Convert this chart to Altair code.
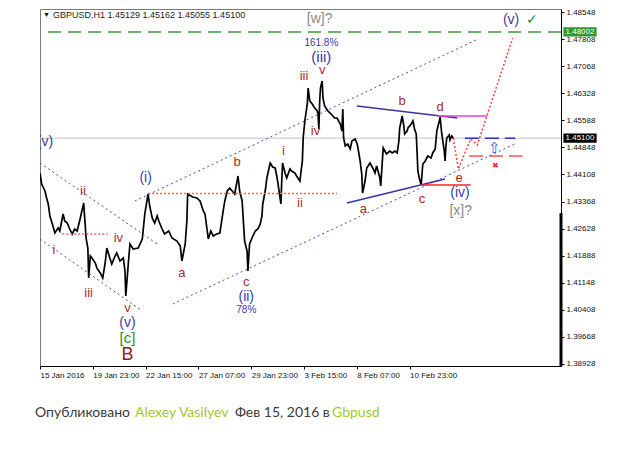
import altair as alt
import pandas as pd

# ---------------- data ----------------
# x = H1 bar index (64 bars between axis labels)
tick_bars = [0, 64, 128, 192, 256, 320, 384, 448]
tick_labels = ["15 Jan 2016", "19 Jan 23:00", "22 Jan 15:00", "27 Jan 07:00",
               "29 Jan 23:00", "3 Feb 15:00", "8 Feb 07:00", "10 Feb 23:00"]
price_ticks = [1.48548, 1.47808, 1.47068, 1.46328, 1.45588, 1.44848, 1.44108,
               1.43368, 1.42628, 1.41888, 1.41148, 1.40408, 1.39668, 1.38928]

price_bar = [0, 2, 6, 8, 10, 12, 15, 18, 22, 24,
             28, 30, 33, 36, 39, 42, 45, 48, 53, 54,
             56, 58, 59, 61, 63, 67, 69, 73, 76, 79,
             81, 85, 87, 91, 93, 97, 101, 103, 104, 107,
             109, 113, 119, 124, 127, 131, 133, 136, 139, 142,
             144, 148, 151, 156, 160, 166, 170, 172, 176, 178,
             179, 185, 190, 194, 198, 200, 204, 207, 210, 214,
             218, 222, 224, 227, 230, 236, 240, 242, 245, 248,
             251, 252, 254, 258, 261, 264, 267, 269, 270, 273,
             275, 279, 282, 285, 287, 288, 292, 293, 294, 297,
             299, 303, 305, 309, 311, 315, 318, 319, 321, 324,
             325, 327, 330, 333, 336, 337, 338, 339, 340, 342,
             343, 345, 349, 353, 357, 360, 364, 366, 367, 368,
             370, 373, 376, 378, 382, 384, 385, 388, 390, 391,
             394, 396, 400, 404, 406, 408, 412, 413, 416, 418,
             420, 424, 427, 430, 433, 435, 436, 439, 441, 442,
             445, 446, 450, 452, 454, 456, 457, 458, 460, 462,
             464, 467, 470, 474, 476, 479, 481, 484, 485, 486,
             487, 490, 491, 492, 493, 496, 497, 499, 501]
price_val = [1.44148, 1.43847, 1.43656, 1.43465, 1.43301, 1.42973, 1.42754, 1.42508, 1.42645, 1.42563,
             1.43027, 1.42836, 1.42781, 1.42617, 1.42481, 1.42617, 1.42563, 1.42836, 1.43328, 1.42973,
             1.42344, 1.42098, 1.41278, 1.41879, 1.41825, 1.41688, 1.41548, 1.41415, 1.41278, 1.41688,
             1.42098, 1.41798, 1.41661, 1.41879, 1.41962, 1.41743, 1.41825, 1.41470, 1.40786, 1.41661,
             1.42208, 1.42071, 1.42098, 1.42344, 1.43027, 1.43574, 1.43246, 1.42918, 1.42781, 1.42973,
             1.42836, 1.42617, 1.42481, 1.42563, 1.42371, 1.42289, 1.42153, 1.41743, 1.42208, 1.42836,
             1.43574, 1.43492, 1.43465, 1.43383, 1.43109, 1.43027, 1.42344, 1.42563, 1.42426, 1.42481,
             1.42508, 1.43109, 1.43383, 1.43656, 1.43738, 1.43574, 1.44066, 1.43656, 1.43383, 1.42289,
             1.42016, 1.41470, 1.42208, 1.42426, 1.42563, 1.42617, 1.42754, 1.42973, 1.43301, 1.43656,
             1.44011, 1.44421, 1.44312, 1.44285, 1.44066, 1.43929, 1.43301, 1.43929, 1.44421, 1.44148,
             1.44011, 1.44257, 1.44203, 1.44148, 1.44066, 1.43929, 1.44476, 1.45104, 1.45569, 1.46034,
             1.46471, 1.46116, 1.46034, 1.45924, 1.45842, 1.45760, 1.45350, 1.46116, 1.46471, 1.46662,
             1.46198, 1.45979, 1.45842, 1.45760, 1.45651, 1.45651, 1.45487, 1.45296, 1.45897, 1.45104,
             1.44886, 1.44940, 1.44804, 1.45022, 1.45077, 1.44968, 1.44886, 1.44476, 1.44121, 1.43601,
             1.43929, 1.44285, 1.44421, 1.44257, 1.44148, 1.44339, 1.44011, 1.43793, 1.44831, 1.44749,
             1.44667, 1.44749, 1.44695, 1.44749, 1.44695, 1.45022, 1.45378, 1.45706, 1.45432, 1.45214,
             1.45296, 1.45378, 1.45487, 1.45569, 1.45350, 1.45214, 1.44749, 1.44203, 1.43984, 1.43820,
             1.44394, 1.44476, 1.44612, 1.44558, 1.44695, 1.44804, 1.45296, 1.45569, 1.45678, 1.45432,
             1.45214, 1.44749, 1.44476, 1.44886, 1.45104, 1.45186, 1.45050, 1.45159, 1.45100]

# annotation lines (bar, price)
desc_upper_b, desc_upper_p = [0, 142], [1.44421, 1.42208]
desc_lower_b, desc_lower_p = [0, 124], [1.42344, 1.40376]
asc_upper_b, asc_upper_p = [115, 531], [1.43383, 1.47810]
asc_lower_b, asc_lower_p = [161, 578], [1.40568, 1.44968]
tri_upper_b, tri_upper_p = [384, 506], [1.45979, 1.45651]
tri_lower_b, tri_lower_p = [372, 491], [1.43328, 1.43984]
magenta_b, magenta_p = [482, 542], [1.45706, 1.45706]
red_solid_b, red_solid_p = [463, 522], [1.43820, 1.43820]
lvl_i_b, lvl_i_p = [131, 360], [1.43590, 1.43590]
lvl_iv_b, lvl_iv_p = [27, 82], [1.42481, 1.42481]
fc_b = [501, 507, 522, 530, 573]
fc_p = [1.45100, 1.44257, 1.45077, 1.44913, 1.47840]
blue_dash_b, blue_dash_p = [515, 576], [1.45100, 1.45100]
red_dash_b, red_dash_p = [520, 585], [1.44612, 1.44612]
target_price = 1.48002
last_price = 1.45100

RED, NAVY, GREY, GREEN = "#b02a22", "#3b3ba8", "#8a8a8a", "#2e8b2e"
lab_text = ["[w]?", "(v)", "✓", "161.8%", "(iii)", "v", "iii", "iv", "i", "ii",
            "b", "(i)", "ii", "iv", "i", "iii", "v", "(v)", "[c]", "B",
            "a", "c", "(ii)", "78%", "b", "d", "a", "c", "e", "(iv)", "[x]?",
            "⇧", "✖"]
lab_bar = [339, 571, 596, 341, 341, 342, 320, 334, 295, 315,
           239, 128, 52, 95, 17, 59, 106, 106, 106, 106,
           172, 250, 250, 250, 439, 485, 392, 463, 508, 509, 510,
           551, 552]
lab_price = [1.48357, 1.48329, 1.48329, 1.47701, 1.47318, 1.46950, 1.46810, 1.45296, 1.44749, 1.43328,
             1.44448, 1.44011, 1.43656, 1.42371, 1.42043, 1.40868, 1.40450, 1.40060, 1.39638, 1.39180,
             1.41415, 1.41169, 1.40759, 1.40404, 1.46116, 1.45952, 1.43164, 1.43437, 1.44011, 1.43601, 1.43109,
             1.44830, 1.44340]
lab_color = [GREY, NAVY, GREEN, NAVY, NAVY, RED, RED, RED, RED, RED,
             RED, NAVY, RED, RED, RED, RED, RED, NAVY, GREEN, "#9a1a1a",
             RED, RED, NAVY, NAVY, RED, RED, RED, RED, RED, NAVY, GREY,
             "#3a5ad8", "#ff3030"]
lab_size = [14, 14, 14, 10, 15, 13, 13, 13, 13, 13,
            13, 14, 13, 13, 13, 13, 13, 14, 15, 18,
            13, 13, 14, 10, 13, 13, 13, 13, 13, 14, 14,
            15, 8]

footer_parts = ["Опубликовано", "Alexey Vasilyev", "Фев 15, 2016 в", "Gbpusd"]
footer_colors = ["#3a3a3a", "#a3c72a", "#3a3a3a", "#a3c72a"]

# ---------------- chart ----------------
W, H = 521, 357
xscale = alt.Scale(domain=[0, 631.5], nice=False, zero=False)
yscale = alt.Scale(domain=[1.38873, 1.48630], nice=False, zero=False)
label_expr = "[" + ",".join("'%s'" % s for s in tick_labels) + "][round(datum.value/64)]"
xaxis = alt.Axis(values=tick_bars, labelExpr=label_expr, labelAlign="left", labelFontSize=8,
                 labelFont="Liberation Sans", labelColor="#111", tickSize=3, tickColor="#000",
                 labelPadding=2, grid=False, domainColor="#000", title=None,
                 labelFlush=False, labelOverlap=False)
yaxis = alt.Axis(orient="right", values=price_ticks, format=".5f", labelFontSize=8,
                 labelFont="Liberation Sans", labelColor="#111", tickSize=3, tickColor="#000",
                 labelPadding=2, grid=False, domainColor="#000", title=None,
                 labelFlush=False, labelOverlap=False)

X = alt.X("b:Q", scale=xscale, axis=xaxis)
Y = alt.Y("p:Q", scale=yscale, axis=yaxis)


def seg(bs, ps, color, width, dash=None):
    df = pd.DataFrame({"b": bs, "p": ps, "i": list(range(len(bs)))})
    kw = dict(color=color, strokeWidth=width, clip=True)
    if dash:
        kw["strokeDash"] = dash
    return alt.Chart(df).mark_line(**kw).encode(x=X, y=Y, order="i:O")


layers = []
layers.append(alt.Chart(pd.DataFrame({"p": [last_price]})).mark_rule(color="#c4c4c4", strokeWidth=1).encode(y=Y))
layers.append(alt.Chart(pd.DataFrame({"p": [target_price]})).mark_rule(color="#3a9a3a", strokeWidth=1.3, strokeDash=[13, 7]).encode(y=Y))
layers.append(alt.Chart(pd.DataFrame({"b": price_bar, "p": price_val, "i": list(range(len(price_bar)))}))
              .mark_line(color="#000", strokeWidth=1.7, clip=True).encode(x=X, y=Y, order="i:O"))
for bs, ps in [(desc_upper_b, desc_upper_p), (desc_lower_b, desc_lower_p),
               (asc_upper_b, asc_upper_p), (asc_lower_b, asc_lower_p)]:
    layers.append(seg(bs, ps, "#4a4ab8", 1, [2, 3]))
layers.append(seg(tri_upper_b, tri_upper_p, "#3535a0", 1.5))
layers.append(seg(tri_lower_b, tri_lower_p, "#3535a0", 1.5))
layers.append(seg(magenta_b, magenta_p, "#e040e0", 1.3))
layers.append(seg(red_solid_b, red_solid_p, "#ff2020", 1.3))
layers.append(seg(lvl_i_b, lvl_i_p, "#ff6060", 1.5, [2, 2]))
layers.append(seg(lvl_iv_b, lvl_iv_p, "#ff6060", 1.5, [2, 2]))
layers.append(seg(fc_b, fc_p, "#ff4040", 1.5, [2, 2]))
layers.append(seg(blue_dash_b, blue_dash_p, "#3030d0", 1.5, [14, 6]))
layers.append(seg(red_dash_b, red_dash_p, "#ff5050", 1.5, [14, 6]))

labels = pd.DataFrame({"t": lab_text, "b": lab_bar, "p": lab_price, "c": lab_color, "s": lab_size})
layers.append(alt.Chart(labels).mark_text(font="Liberation Sans", align="center", baseline="middle")
              .encode(x=X, y=Y, text="t:N", color=alt.Color("c:N", scale=None), size=alt.Size("s:Q", scale=None)))
layers.append(alt.Chart(pd.DataFrame({"t": ["(v)"], "b": [6], "p": [1.44995]}))
              .mark_text(font="Liberation Sans", fontSize=14, color=NAVY, clip=True)
              .encode(x=X, y=Y, text="t:N"))

box_shape = "M-1,-0.28H1V0.28H-1Z"
layers.append(alt.Chart(pd.DataFrame({"p": [target_price]})).mark_point(shape=box_shape, filled=True, size=1100, color="#2e9a2e", opacity=1, strokeWidth=0)
              .encode(x=alt.value(540), y=Y))
layers.append(alt.Chart(pd.DataFrame({"p": [last_price]})).mark_point(shape=box_shape, filled=True, size=1100, color="#000", opacity=1, strokeWidth=0)
              .encode(x=alt.value(540), y=Y))
layers.append(alt.Chart(pd.DataFrame({"p": [target_price, last_price], "t": ["1.48002", "1.45100"]}))
              .mark_text(font="Liberation Sans", fontSize=8, color="#fff", align="center", baseline="middle")
              .encode(x=alt.value(540), y=Y, text="t:N"))
layers.append(alt.Chart(pd.DataFrame({"p": [1.43050], "p2": [1.38873]})).mark_rule(color="#000", strokeWidth=3)
              .encode(x=alt.value(W), y=Y, y2="p2:Q"))

layers.append(alt.Chart(pd.DataFrame({"t": ["▼"]})).mark_text(fontSize=7, color="#111", align="left", baseline="middle")
              .encode(x=alt.value(3), y=alt.value(6), text="t:N"))
layers.append(alt.Chart(pd.DataFrame({"t": ["GBPUSD,H1  1.45129 1.45162 1.45055 1.45100"]}))
              .mark_text(font="Liberation Sans", fontSize=9, color="#222", align="left", baseline="middle")
              .encode(x=alt.value(13), y=alt.value(6), text="t:N"))

footer_x = [-5, 95, 195, 292]
for t, c, xv in zip(footer_parts, footer_colors, footer_x):
    layers.append(alt.Chart(pd.DataFrame({"t": [t]}))
                  .mark_text(font="Lato", fontSize=14, color=c, align="left", baseline="middle")
                  .encode(x=alt.value(xv), y=alt.value(404), text="t:N"))

chart = alt.layer(*layers).properties(
    width=W, height=H,
    padding={"left": 27, "top": 0, "right": 5, "bottom": 5},
    background="#ffffff",
).configure_view(stroke="#7a7a7a", strokeWidth=1)

chart.save("out.html", embed_options={"renderer": "svg", "actions": False})
